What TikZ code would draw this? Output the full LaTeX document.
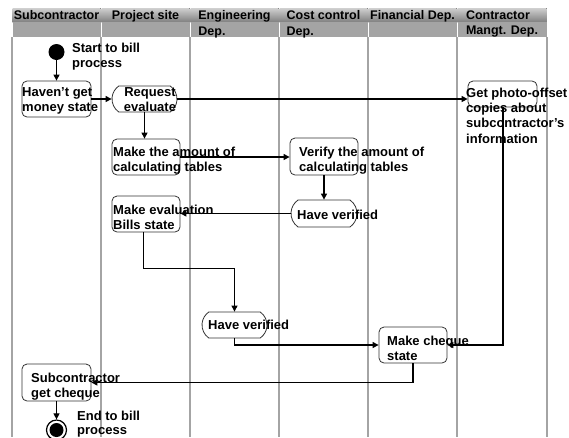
\documentclass[tikz,border=0pt]{standalone}
\usepackage{fontspec}
\setmainfont{Liberation Sans}
\usetikzlibrary{arrows.meta,shapes.misc}
\definecolor{lanegray}{HTML}{A4A4A4}
\definecolor{tabhi}{HTML}{D0D0D0}
\definecolor{tablo}{HTML}{808080}
\definecolor{tabmid}{HTML}{A4A4A4}
\definecolor{boxc}{HTML}{333333}
\begin{document}
\begin{tikzpicture}[x=1pt,y=-1pt,
  lane/.style={draw=lanegray, line width=1.6pt},
  tabtop/.style={top color=tabhi, bottom color=tablo, draw=none},
  tabbot/.style={fill=tabmid, draw=none},
  hdr/.style={font=\fontsize{12.5}{15.5}\selectfont\bfseries, inner sep=0, anchor=north, align=left, text=black},
  txt/.style={font=\fontsize{13}{15}\selectfont\bfseries, inner sep=0, anchor=north west, align=left, text=black},
  box/.style={draw=boxc, line width=0.8pt, rounded corners=5pt, inner sep=0},
  pill/.style={draw=boxc, line width=0.8pt, rounded rectangle, rounded rectangle arc length=110, inner sep=0},
  arr/.style={draw=black, line width=1.1pt, -{Triangle[length=6pt,width=6pt]}},
  ]
\useasboundingbox (0,0) rectangle (569,437);
\fill[white] (0,0) rectangle (569,437);

% header tabs
\foreach \xa/\xb/\t [count=\i] in {12/101/Subcontractor, 101/190/Project site, 190/279/{Engineering\\Dep.}, 279/368/{Cost control\\Dep.}, 368/457/Financial Dep., 457/547/{Contractor\\Mangt. Dep.}}{
  \fill[tabtop] (\xa+0.5,8) rectangle (\xb-0.5,22);
  \fill[tabbot] (\xa+0.5,22) rectangle (\xb-0.5,37);
  \node[hdr] (h\i) at ({(\xa+\xb)/2},10.5) {\t};
}

% lane lines
\foreach \x in {12,101,190,279,368,457,547}{
  \draw[lane] (\x,37) -- (\x,437);
}

% shapes
\node[circle, fill=black, minimum size=16pt, inner sep=0] (start) at (56.5,52) {};
\node[box, minimum width=69pt, minimum height=36pt] (hav) at (56.5,99) {};
\node[pill, minimum width=65pt, minimum height=26pt] (req) at (144.5,99) {};
\node[box, minimum width=68pt, minimum height=36pt] (amt) at (146,157) {};
\node[box, minimum width=68pt, minimum height=37pt] (ver) at (324,156.5) {};
\node[pill, minimum width=66pt, minimum height=27pt] (hvc) at (324,213.5) {};
\node[box, minimum width=68pt, minimum height=36pt] (eval) at (146,214) {};
\node[box, minimum width=69pt, minimum height=26pt] (photo) at (502.5,94) {};
\node[pill, minimum width=65pt, minimum height=26pt] (hve) at (234.5,325) {};
\node[box, minimum width=68pt, minimum height=36pt] (chq) at (413,345) {};
\node[box, minimum width=69pt, minimum height=37pt] (subg) at (56.5,382.5) {};
\node[circle, draw=black, line width=1.2pt, minimum size=20pt, inner sep=0] (endc) at (56.5,430) {};
\node[circle, fill=black, minimum size=14pt, inner sep=0] (endin) at (endc.center) {};

% texts
\node[txt] (startlbl) at (72,42.5) {Start to bill\\process};
\node[txt] (havlbl) at (22,87.5) {Haven’t get\\money state};
\node[txt, anchor=north, align=center] (reqlbl) at (150,87.5) {Request\\evaluate};
\node[txt] (amtlbl) at (113,146.5) {Make the amount of\\calculating tables};
\node[txt] (verlbl) at (299,146.5) {Verify the amount of\\calculating tables};
\node[txt] (hvclbl) at (297,209.5) {Have verified};
\node[txt] (evallbl) at (113,204.5) {Make evaluation\\Bills state};
\node[txt, font=\fontsize{13}{15.4}\selectfont\bfseries] (photolbl) at (466,87.5) {Get photo-offset\\copies about\\subcontractor’s\\information};
\node[txt] (hvelbl) at (208,319.5) {Have verified};
\node[txt] (chqlbl) at (387,335.5) {Make cheque\\state};
\node[txt] (subglbl) at (31,372.5) {Subcontractor\\get cheque};
\node[txt, font=\fontsize{13}{14}\selectfont\bfseries] (endlbl) at (77,410.5) {End to bill\\process};

% connectors
\draw[arr] (start) -- (hav);
\draw[arr] (hav.east) -- (req.west);
\draw[arr, line width=1.3pt] (req.east) -- (req.east -| photo.west);
\draw[arr] (req.south) -- (req.south |- amt.north);
\draw[arr] (amt.east) -- (amt.east -| ver.west);
\draw[arr] (ver.south) -- (hvc.north);
\draw[arr] (hvc.west) -- (hvc.west -| eval.east);
\draw[arr, line width=0.9pt] ([xshift=-3pt]eval.south) -- ++(0,36) -| (hve.north);
\draw[arr] (hve.south) |- (chq.west);
\draw[arr, line width=2pt] (photo.south) |- (chq.east);
\draw[arr] (chq.south) |- (subg.east);
\draw[arr] (subg.south) -- (endc.north);
\end{tikzpicture}
\end{document}
